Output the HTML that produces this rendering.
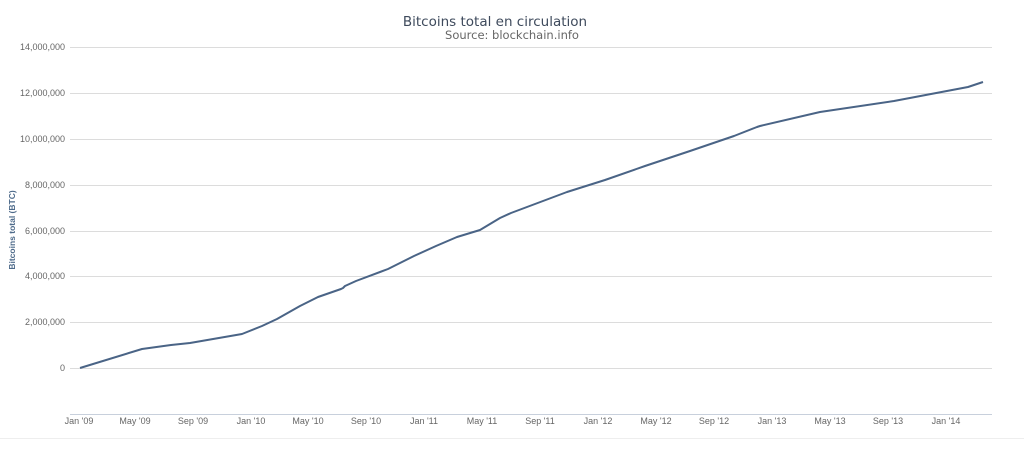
<!DOCTYPE html>
<html><head><meta charset="utf-8"><style>
html,body{margin:0;padding:0;background:#fff;width:1024px;height:449px;overflow:hidden}
text{font-family:"Liberation Sans",sans-serif}
</style></head><body>
<svg width="1024" height="449" xmlns="http://www.w3.org/2000/svg">
<rect width="1024" height="449" fill="#fff"/>
<line x1="0" y1="438.5" x2="1024" y2="438.5" stroke="#eee"/>
<g stroke="#dcdcdc" stroke-width="1">
<line x1="70" y1="47.5" x2="992" y2="47.5"/>
<line x1="70" y1="93.5" x2="992" y2="93.5"/>
<line x1="70" y1="139.5" x2="992" y2="139.5"/>
<line x1="70" y1="185.5" x2="992" y2="185.5"/>
<line x1="70" y1="231.5" x2="992" y2="231.5"/>
<line x1="70" y1="276.5" x2="992" y2="276.5"/>
<line x1="70" y1="322.5" x2="992" y2="322.5"/>
<line x1="70" y1="368.5" x2="992" y2="368.5"/>
<line x1="70" y1="414.5" x2="992" y2="414.5" stroke="#c8d0dc"/>
</g>
<g font-size="9" fill="#666" text-anchor="end">
<text x="65" y="50">14,000,000</text>
<text x="65" y="96">12,000,000</text>
<text x="65" y="142">10,000,000</text>
<text x="65" y="188">8,000,000</text>
<text x="65" y="234">6,000,000</text>
<text x="65" y="279">4,000,000</text>
<text x="65" y="325">2,000,000</text>
<text x="65" y="371">0</text>
</g>
<g font-size="9" fill="#666" text-anchor="middle">
<text x="79" y="424">Jan '09</text><text x="135" y="424">May '09</text><text x="193" y="424">Sep '09</text><text x="251" y="424">Jan '10</text>
<text x="308" y="424">May '10</text><text x="366" y="424">Sep '10</text><text x="424" y="424">Jan '11</text><text x="482" y="424">May '11</text>
<text x="540" y="424">Sep '11</text><text x="598" y="424">Jan '12</text><text x="656" y="424">May '12</text><text x="714" y="424">Sep '12</text>
<text x="772" y="424">Jan '13</text><text x="830" y="424">May '13</text><text x="888" y="424">Sep '13</text><text x="946" y="424">Jan '14</text>
</g>
<text x="495" y="26" font-size="13.5" fill="#3e4a5c" text-anchor="middle" style="font-family:'DejaVu Sans',sans-serif">Bitcoins total en circulation</text>
<text x="512" y="39" font-size="11.5" fill="#666" text-anchor="middle" style="font-family:'DejaVu Sans',sans-serif">Source: blockchain.info</text>
<text transform="translate(15,230) rotate(-90)" font-size="8.5" font-weight="bold" fill="#4d6a8a" text-anchor="middle">Bitcoins total (BTC)</text>
<polyline fill="none" stroke="#4a6486" stroke-width="2" stroke-linejoin="round"
points="80,368 142,349 171,345 190,343 242,334 262,326 277,319 300,306 318,297 341,289 343,288 345,286 356,281 388,269 414,256 436,246 457,237 480,230 500,218 511,213 527,207 567,192 605,180 645,166 690,151 734,136 757,127 760,126 820,112 894,101 968,87 983,82"/>
</svg>
</body></html>
